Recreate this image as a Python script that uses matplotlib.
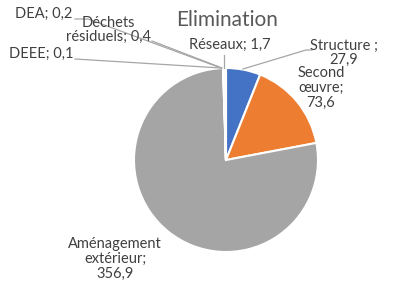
import matplotlib.pyplot as plt

# data (tonnes)
labels = ['Structure', 'Second\nœuvre', 'Aménagement\nextérieur', 'Déchets\nrésiduels', 'DEA', 'DEEE', 'Réseaux']
values = [27.9, 73.6, 356.9, 0.4, 0.2, 0.1, 1.7]
label_texts = ['Structure ;\n27,9', 'Second\nœuvre;\n73,6', 'Aménagement\nextérieur;\n356,9',
               'Déchets\nrésiduels; 0,4', 'DEA; 0,2', 'DEEE; 0,1', 'Réseaux; 1,7']
colors = ['#4472C4', '#ED7D31', '#A5A5A5', '#FFC000', '#5B9BD5', '#70AD47', '#264478']

plt.rcParams['font.family'] = ['Lato', 'DejaVu Sans']

W, H = 403, 283
fig = plt.figure(figsize=(W / 100, H / 100), dpi=100)
ax = fig.add_axes([0, 0, 1, 1])

cx, cy, r = 226, H - 160, 92
wedges, _ = ax.pie(values, colors=colors, startangle=90, counterclock=False,
                   center=(cx, cy), radius=r, frame=True,
                   wedgeprops=dict(edgecolor='white', linewidth=1.5))
ax.set_xlim(0, W)
ax.set_ylim(0, H)
ax.axis('off')

ax.text(227, H - 20, 'Elimination', ha='center', va='center', fontsize=15, color='#595959')

tc = '#404040'
lc = '#A6A6A6'
# label positions in pixels (top-left origin)
pos = {
    'Structure': (344, 53),
    'Second\nœuvre': (321, 88),
    'Aménagement\nextérieur': (115, 259),
    'Déchets\nrésiduels': (108, 30),
    'DEA': (44, 14),
    'DEEE': (41, 54),
    'Réseaux': (230, 45),
}
for lab, txt in zip(labels, label_texts):
    x, y = pos[lab]
    ax.text(x, H - y, txt, ha='center', va='center', fontsize=10.5, color=tc, linespacing=1.05)

# leader lines
leaders = [
    [(243, 69), (306, 50), (312, 50)],
    [(224, 68), (224, 55)],
    [(222, 68), (152, 41)],
    [(221, 68), (88, 19), (75, 19)],
    [(221, 68), (75, 59)],
]
for pts in leaders:
    xs = [p[0] for p in pts]
    ys = [H - p[1] for p in pts]
    ax.plot(xs, ys, color=lc, linewidth=0.9)

fig.savefig('out.png', dpi=100)
